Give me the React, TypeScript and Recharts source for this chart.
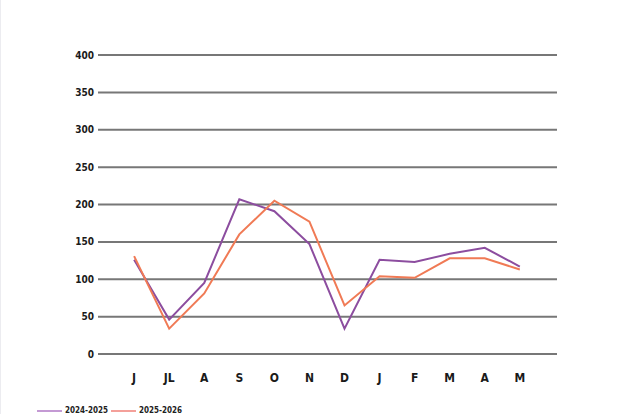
import React from "react";
import { CartesianGrid, Legend, Line, LineChart, XAxis, YAxis } from "recharts";

const months = ["J", "JL", "A", "S", "O", "N", "D", "J", "F", "M", "A", "M"];
const season2024 = [126, 46, 95, 207, 191, 147, 34, 126, 123, 134, 142, 117];
const season2025 = [131, 34, 81, 160, 205, 177, 65, 104, 102, 128, 128, 113];
const yTicks = [0, 50, 100, 150, 200, 250, 300, 350, 400];

const purple = "#8c4d9f";
const orange = "#f07a55";
const font = "'DejaVu Sans Condensed', 'Liberation Sans Narrow', sans-serif";

const data = months.map((m, i) => ({ idx: i, month: m, a: season2024[i], b: season2025[i] }));

const legendItems = [
  { label: "2024-2025", color: "#c49ad4", left: 36 },
  { label: "2025-2026", color: "#f4a09a", left: 110 },
];

function LegendRow() {
  return (
    <div style={{ position: "relative", height: 0 }}>
      {legendItems.map((it) => (
        <div
          key={it.label}
          style={{ position: "absolute", left: it.left, top: 0, display: "flex", alignItems: "center", whiteSpace: "nowrap" }}
        >
          <span style={{ display: "inline-block", width: 25, height: 2, background: it.color, marginRight: 3 }} />
          <span style={{ fontFamily: font, fontWeight: 700, fontSize: 8, color: "#222", lineHeight: "10px" }}>{it.label}</span>
        </div>
      ))}
    </div>
  );
}

export default function App() {
  return (
    <div style={{ position: "fixed", left: 0, top: 0, width: 644, height: 414, background: "#fff", borderLeft: "1px solid #ececf0", boxSizing: "border-box", overflow: "hidden" }}>
      <LineChart width={644} height={414} data={data} margin={{ top: 55, right: 88, left: 47, bottom: 30 }}>
        <CartesianGrid vertical={false} stroke="#777" strokeWidth={2} />
        <XAxis
          dataKey="idx"
          type="number"
          domain={[-1.03, 12.06]}
          allowDataOverflow
          ticks={months.map((_, i) => i)}
          tickFormatter={(v) => months[v] ?? ""}
          axisLine={false}
          tickLine={false}
          tickMargin={13}
          height={30}
          tick={{ fill: "#1a1a1a", fontSize: 12, fontWeight: 700, fontFamily: font }}
        />
        <YAxis
          domain={[0, 400]}
          ticks={yTicks}
          width={50}
          axisLine={false}
          tickLine={false}
          tickSize={4}
          tickMargin={0}
          tick={{ fill: "#1a1a1a", fontSize: 10, fontWeight: 700, fontFamily: font }}
        />
        <Legend
          content={() => <LegendRow />}
          wrapperStyle={{ position: "absolute", left: 0, top: 406, bottom: "auto", width: 644, height: 0 }}
        />
        <Line type="linear" dataKey="a" name="2024-2025" stroke={purple} strokeWidth={2} dot={false} isAnimationActive={false} />
        <Line type="linear" dataKey="b" name="2025-2026" stroke={orange} strokeWidth={2} dot={false} isAnimationActive={false} />
      </LineChart>
    </div>
  );
}
